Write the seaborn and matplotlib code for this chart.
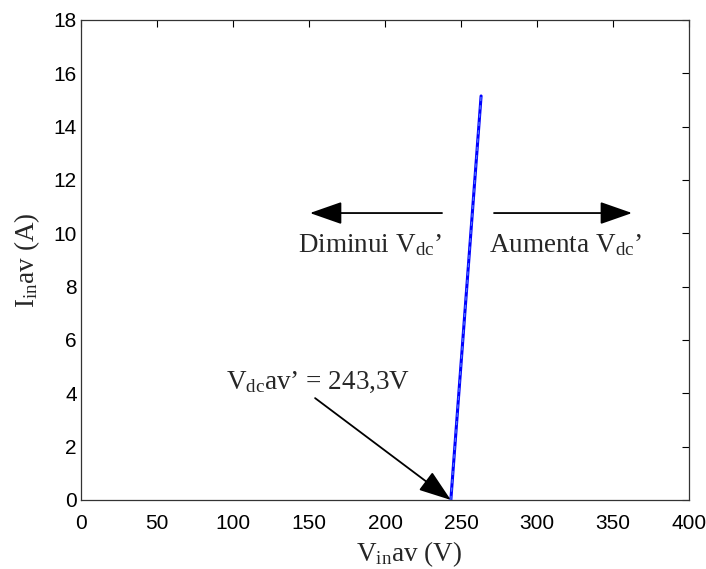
import matplotlib
matplotlib.use("Agg")
import matplotlib.pyplot as plt
import seaborn as sns
import pandas as pd

v_in = [243.3, 263.2]
i_in = [0.0, 15.15]
xticks = [0, 50, 100, 150, 200, 250, 300, 350, 400]
yticks = [0, 2, 4, 6, 8, 10, 12, 14, 16, 18]

sns.set_style("white")
plt.rcParams['font.family'] = ['Liberation Sans', 'DejaVu Sans']
plt.rcParams['mathtext.fontset'] = 'custom'
plt.rcParams['mathtext.rm'] = 'Liberation Serif'
plt.rcParams['mathtext.it'] = 'Liberation Serif'

df = pd.DataFrame({"V": v_in, "I": i_in})

fig = plt.figure(figsize=(7.06, 5.69), dpi=100)
ax = fig.add_axes([0.1147, 0.1213, 0.976 - 0.1147, 0.9649 - 0.1213])
sns.lineplot(data=df, x="V", y="I", ax=ax, color="#0000ff", linewidth=2.2)
ax.plot(v_in, i_in, color="#4a6cff", linewidth=1.0, linestyle=(0, (3, 3)))

ax.set_xlim(0, 400)
ax.set_ylim(0, 18)
ax.set_xticks(xticks)
ax.set_yticks(yticks)
ax.tick_params(direction="in", length=5, width=0.8, labelsize=15, colors="black",
               top=True, right=True, pad=3)
ax.tick_params(axis="x", pad=10)
for s in ax.spines.values():
    s.set_color("#333333")
    s.set_linewidth(0.9)

serif = {'family': 'Liberation Serif', 'size': 19.5}
ax.set_xlabel(r"V$_{\mathrm{in}}$av (V)", fontdict=serif)
ax.set_ylabel(r"I$_{\mathrm{in}}$av (A)", fontdict=serif, labelpad=8)
ax.xaxis.set_label_coords(0.54, -0.082)

arr = dict(arrowstyle="-|>,head_length=1.0,head_width=0.35", color="black", lw=1.3,
           mutation_scale=20, shrinkA=0, shrinkB=0)
ax.annotate("", xy=(150.6, 10.76), xytext=(237.5, 10.76), arrowprops=arr)
ax.annotate("", xy=(362.5, 10.76), xytext=(271.7, 10.76), arrowprops=arr)
ax.text(190, 9.55, r"Diminui V$_{\mathrm{dc}}$’", ha="center", va="center",
        family="Liberation Serif", fontsize=19.5)
ax.text(318.5, 9.55, r"Aumenta V$_{\mathrm{dc}}$’", ha="center", va="center",
        family="Liberation Serif", fontsize=19.5)
ax.text(156, 4.42, r"V$_{\mathrm{dc}}$av’ = 243,3V", ha="center", va="center",
        family="Liberation Serif", fontsize=19.5)
ax.annotate("", xy=(243.3, 0.0), xytext=(154, 3.82), arrowprops=arr)

fig.savefig("out.png", dpi=100)
